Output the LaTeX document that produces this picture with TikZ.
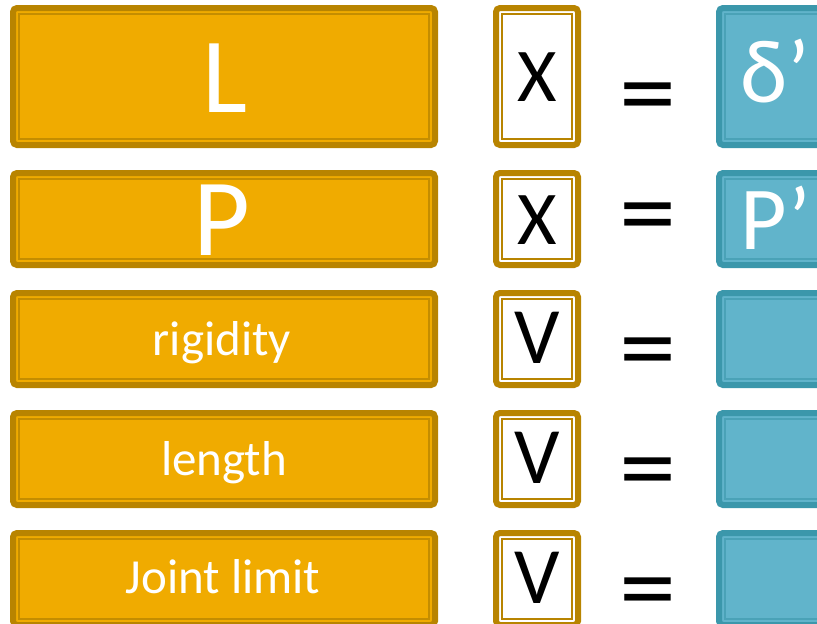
\documentclass[tikz,border=0pt]{standalone}
\usepackage{fontspec}
\usepackage{graphicx}
\setmainfont{Carlito}
\definecolor{ofill}{HTML}{F0AB00}
\definecolor{oedge}{HTML}{B88400}
\definecolor{oline}{HTML}{C48D00}
\definecolor{tfill}{HTML}{61B4CB}
\definecolor{tedge}{HTML}{3B97AB}
\definecolor{tline}{HTML}{4AA2B7}
\tikzset{
  obox/.style={draw=oedge, fill=ofill, line width=6pt, rounded corners=4pt},
  oin/.style={draw=oline, line width=2pt},
  wbox/.style={draw=oedge, fill=white, line width=6pt, rounded corners=4pt},
  win/.style={draw=oedge, line width=2pt},
  tbox/.style={draw=tedge, fill=tfill, line width=6pt, rounded corners=4pt},
  tin/.style={draw=tline, line width=2pt},
  wtxt/.style={text=white, inner sep=0pt, anchor=base},
  btxt/.style={text=black, inner sep=0pt, anchor=base},
  eqtxt/.style={text=black, inner sep=0pt, anchor=base, font=\fontsize{104}{104}\selectfont},
}
\newcommand\eqsign{\scalebox{1.1}[1]{=}}
\begin{document}
\begin{tikzpicture}[x=1pt,y=-1pt]
\useasboundingbox (0,0) rectangle (817,624);
\clip (0,0) rectangle (817,624);
\foreach \ya/\yb in {5/148,170/268,290/388,410/508,530/628}{
  \draw[obox] (13,\ya+3) rectangle (435,\yb-3);
  \draw[oin] (19,\ya+9) rectangle (429,\yb-9);
  \draw[wbox] (496,\ya+3) rectangle (578,\yb-3);
  \draw[win] (502,\ya+9) rectangle (572,\yb-9);
  \draw[tbox] (719,\ya+3) rectangle (960,\yb-3);
  \draw[tin] (725,\ya+9) rectangle (954,\yb-9);
}
% row 1
\node[wtxt, font=\fontsize{107}{107}\selectfont] (l1) at (225,112) {L};
\node[btxt, font=\fontsize{76}{76}\selectfont] (m1) at (537,101) {X};
\node[eqtxt] (e1) at (648,127) {\eqsign};
\node[wtxt, font=\fontsize{90}{90}\selectfont, anchor=base west] (r1) at (740,102) {δ’};
% row 2
\node[wtxt, font=\fontsize{110}{110}\selectfont] (l2) at (222,255) {P};
\node[btxt, font=\fontsize{76}{76}\selectfont] (m2) at (537,244) {X};
\node[eqtxt] (e2) at (648,247) {\eqsign};
\node[wtxt, font=\fontsize{90}{90}\selectfont, anchor=base west] (r2) at (740,249) {P’};
% row 3
\node[wtxt, font=\fontsize{49}{49}\selectfont] (l3) at (222,355) {rigidity};
\node[btxt, font=\fontsize{80}{80}\selectfont] (m3) at (537,363) {V};
\node[eqtxt] (e3) at (648,382) {\eqsign};
% row 4
\node[wtxt, font=\fontsize{49}{49}\selectfont] (l4) at (224,475) {length};
\node[btxt, font=\fontsize{80}{80}\selectfont] (m4) at (537,483) {V};
\node[eqtxt] (e4) at (648,502) {\eqsign};
% row 5
\node[wtxt, font=\fontsize{49}{49}\selectfont] (l5) at (223,593) {Joint limit};
\node[btxt, font=\fontsize{80}{80}\selectfont] (m5) at (537,603) {V};
\node[eqtxt] (e5) at (648,622) {\eqsign};
\end{tikzpicture}
\end{document}
